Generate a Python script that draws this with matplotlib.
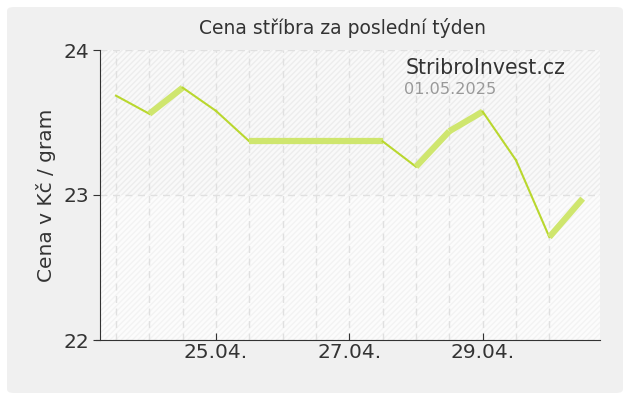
import datetime as dt
import matplotlib
matplotlib.use('Agg')
import matplotlib.pyplot as plt
import matplotlib.dates as mdates
from matplotlib.patches import FancyBboxPatch

start = dt.datetime(2025, 4, 23, 12)
times = [start + dt.timedelta(hours=12*i) for i in range(15)]
prices = [23.685, 23.56, 23.74, 23.58, 23.37, 23.37, 23.37, 23.37, 23.37,
          23.195, 23.44, 23.575, 23.24, 22.71, 22.975]

title = 'Cena stříbra za poslední týden'
ylabel = 'Cena v Kč / gram'
brand = 'StribroInvest.cz'
date_txt = '01.05.2025'

fig = plt.figure(figsize=(6.3, 4), dpi=100, facecolor='white')
fig.patches.append(FancyBboxPatch((6/630, 6/400), 618/630, 388/400,
                                  boxstyle='round,pad=0,rounding_size=0.012',
                                  transform=fig.transFigure, facecolor='#f0f0f0',
                                  edgecolor='white', linewidth=1.5, zorder=-10))

ax = fig.add_axes([100/630, 60/400, 500/630, 290/400])
ax.set_facecolor('#fafafa')
d25 = mdates.date2num(dt.datetime(2025, 4, 25))
ax.set_xlim(d25 - 1.74, d25 + 5.76)
ax.set_ylim(22, 24)

# hatched bands
ax.axhspan(23, 24, facecolor='#f9f9f9', edgecolor='#ededed', hatch='//////', linewidth=0, zorder=0)
ax.axhspan(22, 23, facecolor='#fcfcfc', edgecolor='#f3f3f3', hatch='//////', linewidth=0, zorder=0)

for t in times[:-1]:
    ax.axvline(t, color='#e0e0e0', lw=1, ls=(0, (5, 4)), zorder=1)
for v in [22, 23, 24]:
    ax.axhline(v, color='#e0e0e0', lw=1, ls=(0, (5, 4)), zorder=1)

for i in range(len(times) - 1):
    if prices[i+1] >= prices[i]:
        ax.plot(times[i:i+2], prices[i:i+2], color='#cfe66e', lw=4.5,
                solid_capstyle='butt', zorder=3)
    else:
        ax.plot(times[i:i+2], prices[i:i+2], color='#b9d72e', lw=1.5, zorder=3)

ax.spines['top'].set_visible(False)
ax.spines['right'].set_visible(False)
ax.spines['left'].set_color('#333333')
ax.spines['bottom'].set_color('#333333')
ax.spines['bottom'].set_bounds(ax.get_xlim()[0] - 0.06, ax.get_xlim()[1])

ax.set_yticks([22, 23, 24])
ax.tick_params(axis='y', direction='out', length=5, color='#333333',
               labelsize=14.5, labelcolor='#333333', pad=3)
ax.xaxis.set_major_locator(mdates.DayLocator(bymonthday=[25, 27, 29]))
ax.xaxis.set_major_formatter(mdates.DateFormatter('%d.%m.'))
ax.tick_params(axis='x', direction='in', length=5, color='#333333',
               labelsize=14.5, labelcolor='#333333', pad=2)

ax.set_ylabel(ylabel, fontsize=14.5, color='#333333', labelpad=5)
fig.text(343/630, 1 - 28/400, title, ha='center', va='center', fontsize=13.5, color='#333333')
fig.text(406/630, 1 - 68/400, brand, ha='left', va='center', fontsize=14.8, color='#333333')
fig.text(404/630, 1 - 89/400, date_txt, ha='left', va='center', fontsize=11.6, color='#999999')

fig.savefig('out.png', dpi=100, facecolor='white')
